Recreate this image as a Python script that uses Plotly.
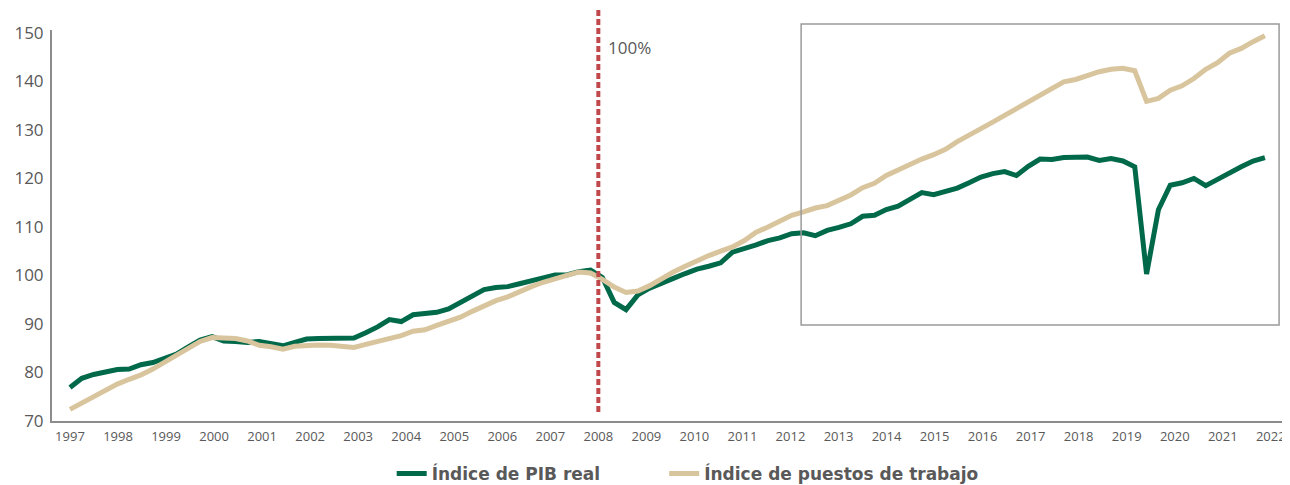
import plotly.graph_objects as go

# indices trimestrales (102 puntos)
pib_real = [76.9, 78.8, 79.6, 80.1, 80.6, 80.7, 81.6, 82.05, 83.0, 83.8,
            85.3, 86.7, 87.4, 86.5, 86.4, 86.2, 86.4, 85.85, 85.5, 86.2,
            86.9, 87.0, 87.1, 87.2, 87.1, 88.2, 89.4, 90.9, 90.5, 91.9,
            92.1, 92.4, 93.1, 94.45, 96.0, 97.1, 97.5, 97.7, 98.3, 99.0,
            99.5, 100.1, 100.1, 100.8, 101.1, 99.6, 94.45, 92.95, 96.0, 97.4,
            98.5, 99.4, 100.4, 101.3, 101.9, 102.6, 104.8, 105.5, 106.3, 107.2,
            107.75, 108.6, 108.8, 108.2, 109.3, 109.9, 110.65, 112.2, 112.4, 113.6,
            114.3, 115.7, 117.1, 116.65, 117.4, 118.0, 119.1, 120.3, 121.0, 121.4,
            120.6, 122.5, 124.0, 123.9, 124.3, 124.3, 124.4, 123.7, 124.1, 123.6,
            122.4, 100.3, 113.55, 118.6, 119.1, 120.0, 118.5, 119.8, 121.2, 122.4,
            123.6, 124.3]

puestos = [72.4, 73.7, 75.1, 76.2, 77.6, 78.6, 79.5, 80.7, 82.1, 83.5,
           85.1, 86.4, 87.2, 87.2, 87.0, 86.5, 85.6, 85.3, 84.8, 85.4,
           85.6, 85.65, 85.6, 85.3, 85.15, 85.8, 86.4, 87.0, 87.6, 88.5,
           88.8, 89.7, 90.6, 91.4, 92.6, 93.8, 94.8, 95.6, 96.7, 97.7,
           98.6, 99.4, 100.0, 100.7, 100.5, 99.2, 97.6, 96.5, 96.8, 97.9,
           99.4, 100.7, 101.9, 103.1, 104.1, 105.0, 105.9, 107.2, 108.9, 110.0,
           111.2, 112.4, 113.1, 113.9, 114.4, 115.6, 116.6, 118.1, 119.0, 120.6,
           121.8, 123.05, 124.0, 124.9, 126.0, 127.6, 128.9, 130.1, 131.6, 133.0,
           134.4, 135.6, 137.2, 138.35, 139.9, 140.4, 141.3, 142.0, 142.5, 142.7,
           142.2, 135.9, 136.5, 138.2, 139.1, 140.6, 142.5, 143.85, 145.8, 146.8,
           148.2, 149.4]

years = list(range(1997, 2023))
year_labels = [str(y) for y in years]

x = list(range(len(pib_real)))
year_step = 4.06  # posiciones de las etiquetas en el eje (en trimestres)
tick_pos = [(y - 1997) * year_step for y in years]
pos_2008 = tick_pos[years.index(2008)]

GREEN = '#00694a'
TAN = '#d9c59d'
GREY_TXT = '#595959'
FONT = 'Open Sans'

fig = go.Figure()
fig.add_trace(go.Scatter(x=x, y=pib_real, mode='lines', name='Índice de PIB real',
                         line=dict(color=GREEN, width=5), legend='legend'))
fig.add_trace(go.Scatter(x=x, y=puestos, mode='lines', name='Índice de puestos de trabajo',
                         line=dict(color=TAN, width=5), legend='legend2'))

# linea base 2008 = 100%
fig.add_shape(type='line', xref='x', yref='paper', x0=pos_2008, x1=pos_2008,
              y0=0.023, y1=1.051, line=dict(color='#c0474a', width=4, dash='6px,3px'))
fig.add_annotation(x=pos_2008, xref='x', y=0.9565, yref='paper', text='100%',
                   showarrow=False, xanchor='left', yanchor='middle', xshift=8,
                   font=dict(family=FONT, size=17, color=GREY_TXT))
# recuadro
fig.add_shape(type='rect', xref='x', yref='paper', x0=61.8, x1=102.2, y0=0.2455, y1=1.0153,
              line=dict(color='#9a9a9a', width=1.5), fillcolor='rgba(0,0,0,0)')

leg_font = dict(family='DejaVu Sans', size=17, color=GREY_TXT, weight=600)

# la pagina deja 8px de margen en el body: figura un poco mas chica
fig.update_layout(
    width=1282, height=477,
    margin=dict(l=44, r=5, t=22, b=64, autoexpand=False),
    plot_bgcolor='white', paper_bgcolor='white',
    font=dict(family=FONT, color=GREY_TXT),
    showlegend=True,
    legend=dict(orientation='h', x=0.2755, xanchor='left', y=-0.1355, yanchor='middle',
                font=leg_font),
    legend2=dict(orientation='h', x=0.4965, xanchor='left', y=-0.1355, yanchor='middle',
                 font=leg_font),
)
fig.update_xaxes(range=[-1.52, 102.7], tickvals=tick_pos, ticktext=year_labels,
                 showgrid=False, zeroline=False, showline=True, linecolor='#8c8c8c', linewidth=2,
                 ticks='', tickfont=dict(family=FONT, size=13, color=GREY_TXT),
                 ticklabelstandoff=2, automargin=False)
fig.update_yaxes(range=[70, 150.6], tickvals=[70, 80, 90, 100, 110, 120, 130, 140, 150],
                 showgrid=False, zeroline=False, showline=True, linecolor='#8c8c8c', linewidth=2,
                 ticks='', tickfont=dict(family=FONT, size=17, color=GREY_TXT),
                 ticklabelstandoff=3, automargin=False)

fig.write_html("out.html")
